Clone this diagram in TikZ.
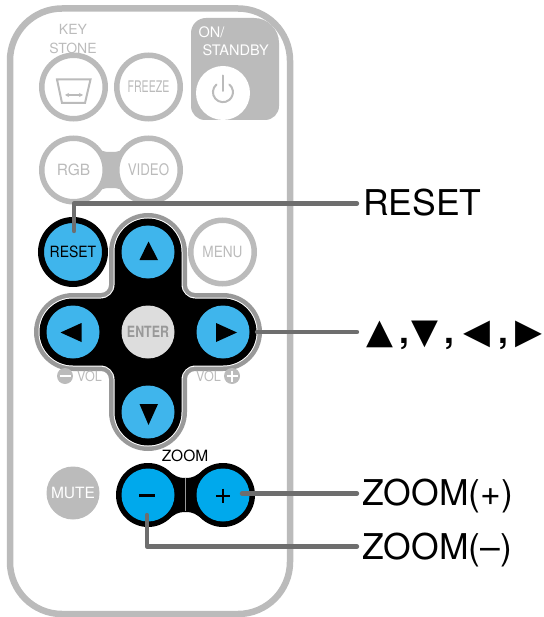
\documentclass[tikz,border=0pt]{standalone}
\usepackage{fontspec}
\setmainfont{TeX Gyre Heros}
\newfontfamily\symfont{DejaVu Sans}
\usetikzlibrary{arrows.meta}
\definecolor{shell}{HTML}{BBBBBB}
\definecolor{padring}{HTML}{999999}
\definecolor{cyanbtn}{HTML}{3FB5EC}
\definecolor{zoombtn}{HTML}{00A9EC}
\definecolor{leadcol}{HTML}{6E6E6E}
\definecolor{entercol}{HTML}{DDDDDD}
\newcommand{\fsz}[1]{\fontsize{#1}{#1}\selectfont}
\newcommand{\tri}[1]{{\fontsize{35}{35}\symfont #1}}
\newcommand{\crossfill}[2]{%
  \pgfmathsetmacro{\cR}{#2}\pgfmathsetmacro{\cF}{47-#2}%
  \fill[#1] ({148-\cR},252) arc[start angle=180,end angle=360,radius=\cR]
  -- ({148+\cR},{332-\cR-\cF}) arc[start angle=180,end angle=90,radius=\cF]
  -- (223,{332-\cR}) arc[start angle=270,end angle=450,radius=\cR]
  -- ({148+\cR+\cF},{332+\cR}) arc[start angle=270,end angle=180,radius=\cF]
  -- ({148+\cR},412) arc[start angle=0,end angle=180,radius=\cR]
  -- ({148-\cR},{332+\cR+\cF}) arc[start angle=0,end angle=-90,radius=\cF]
  -- (73,{332+\cR}) arc[start angle=90,end angle=270,radius=\cR]
  -- ({148-\cR-\cF},{332-\cR}) arc[start angle=90,end angle=0,radius=\cF]
  -- cycle;}
\newcommand{\pillfill}[6]{% colour x1 x2 cy r neck
  \pgfmathsetmacro{\pM}{(#2+#3)/2}\pgfmathsetmacro{\pA}{#2+.64*#5}\pgfmathsetmacro{\pB}{#3-.64*#5}\pgfmathsetmacro{\pH}{.77*#5}%
  \fill[#1] (\pA,{#4-\pH}) .. controls ({\pA+7},{#4-\pH+5}) and ({\pM-8},{#4-#6}) .. (\pM,{#4-#6})
  .. controls ({\pM+8},{#4-#6}) and ({\pB-7},{#4-\pH+5}) .. (\pB,{#4-\pH})
  -- (\pB,{#4+\pH})
  .. controls ({\pB-7},{#4+\pH-5}) and ({\pM+8},{#4+#6}) .. (\pM,{#4+#6})
  .. controls ({\pM-8},{#4+#6}) and ({\pA+7},{#4+\pH-5}) .. (\pA,{#4+\pH}) -- cycle;}
\tikzset{
  x=1pt,y=-1pt,
  ringbtn/.style={circle,draw=shell,line width=5.5pt,fill=white,minimum size=63.5pt,inner sep=0pt,text=shell},
  plainbtn/.style={circle,fill=#1,minimum size=53pt,inner sep=0pt},
  lbl/.style={anchor=base west,inner sep=0pt,font=\fsz{35.5}},
  graytxt/.style={inner sep=0pt,text=shell,font=\fsz{14}},
  leader/.style={draw=leadcol,line width=4.4pt,line cap=round,line join=round},
  icon/.style={draw=shell,line width=2pt},
}
\begin{document}
\begin{tikzpicture}
\useasboundingbox (0,0) rectangle (543,617);
% body
\draw[draw=shell,line width=6.5pt,rounded corners=52pt] (10,8.5) rectangle (290,614);
% key stone
\node[graytxt] (keytxt) at (73,29) {KEY};
\node[graytxt] (stonetxt) at (73,48) {STONE};
\node[ringbtn] (keystone) at (73.5,87) {};
\draw[icon] (57,79.5) -- (90.5,79.5) -- (85,103) -- (62,103) -- cycle;
\draw[draw=shell,line width=1.4pt,{Stealth[length=4pt,width=4pt]}-{Stealth[length=4pt,width=4pt]}] (65,95) -- (83,95);
\node[ringbtn,font=\fsz{16}] (freeze) at (148.5,87) {\scalebox{.66}[1]{FREEZE}};
% power
\fill[shell] (191,60) [rounded corners=15pt] -- (191,18) [rounded corners=25pt] -- (279,18) [rounded corners=14pt] -- (279,120) -- (191,120) -- cycle;
\node[inner sep=0pt,text=white,font=\fsz{14.5},anchor=west] (ontxt) at (198.5,32) {ON/};
\node[inner sep=0pt,text=white,font=\fsz{14.5},anchor=west] (standbytxt) at (202.5,50) {STANDBY};
\node[plainbtn=white,minimum size=54pt] (power) at (223,93) {};
\draw[icon,line cap=round] (216.5,84.5) arc[start angle=-130,end angle=-410,radius=10];
\draw[icon,line cap=round] (223,75.5) -- (223,91);
% rgb video
\pillfill{shell}{73.5}{148.5}{170}{31.5}{18}
\node[ringbtn,font=\fsz{15.5}] (rgb) at (73.5,170) {RGB};
\node[ringbtn,font=\fsz{16}] (video) at (148.5,170) {\scalebox{.83}[1]{VIDEO}};
% reset
\node[circle,draw=black,line width=6pt,fill=cyanbtn,minimum size=64pt,inner sep=0pt,font=\fsz{15.5}] (reset) at (73,252) {\scalebox{.9}[1]{RESET}};
% menu
\node[ringbtn,font=\fsz{15.5}] (menu) at (222.5,252) {\scalebox{.88}[1]{MENU}};
% cross pad
\crossfill{padring}{39}
\crossfill{white}{34.5}
\crossfill{black}{33.5}
\node[plainbtn=cyanbtn] (up) at (148,252) {};
\node[plainbtn=cyanbtn] (left) at (73,332) {};
\node[plainbtn=cyanbtn] (right) at (223,332) {};
\node[plainbtn=cyanbtn] (down) at (148,412) {};
\node[plainbtn=entercol,text=padring,font=\bfseries\fsz{15.5}] (enter) at (148,332) {\scalebox{.8}[1]{ENTER}};
\fill[black] (148.5,241.5) -- (158,260) -- (139.5,260) -- cycle;
\fill[black] (148.5,425) -- (158,404) -- (139.5,404) -- cycle;
\fill[black] (60.5,332.5) -- (81.5,323) -- (81.5,342) -- cycle;
\fill[black] (237,332.5) -- (216,323) -- (216,342) -- cycle;
% vol
\node[circle,fill=shell,minimum size=16pt,inner sep=0pt] (volminus) at (65,376) {};
\draw[white,line width=2pt] (59.5,376) -- (70.5,376);
\node[graytxt,anchor=west] (voltxta) at (77,376) {\scalebox{.9}[1]{VOL}};
\node[circle,fill=shell,minimum size=16pt,inner sep=0pt] (volplus) at (232,376) {};
\draw[white,line width=2pt] (226.5,376) -- (237.5,376) (232,370.5) -- (232,381.5);
\node[graytxt,anchor=west] (voltxtb) at (196,376) {\scalebox{.9}[1]{VOL}};
% mute
\node[plainbtn=shell,text=white,font=\fsz{15.5}] (mute) at (73,493) {MUTE};
% zoom
\node[inner sep=0pt,font=\fsz{15.5}] (zoomtxt) at (185,456) {ZOOM};
\pillfill{black}{148}{223}{495}{31.5}{17}
\fill[black] (148,495) circle[radius=32] (223,495) circle[radius=32];
\node[plainbtn=zoombtn] (zminus) at (148,495) {};
\node[plainbtn=zoombtn] (zplus) at (223,495) {};
\draw[draw=padring,line width=.6pt] (185.7,478) -- (185.7,511);
\draw[black,line width=3pt] (139,495.5) -- (155,495.5);
\draw[black,line width=2pt] (216,495.5) -- (230,495.5) (223,488.5) -- (223,502.5);
% labels
\node[lbl] (lblreset) at (363,216) {RESET};
\node[lbl] (lblarrows) at (366,343) {\tri{▲}\hspace{6pt}{\bfseries,}\hspace{3pt}\tri{▼}\hspace{6pt}{\bfseries,}\hspace{9pt}\tri{◀}\hspace{8pt}{\bfseries,}\hspace{7pt}\tri{▶}};
\node[lbl] (lblzplus) at (362,505) {ZOOM(+)};
\node[lbl] (lblzminus) at (362,559) {ZOOM(–)};
% leader anchors
\coordinate (resettip) at (74,231);
\coordinate (resetend) at (357,203.5);
\coordinate (padtip) at (257,332);
\coordinate (padend) at (357,332);
\coordinate (ztipplus) at (242,493.5);
\coordinate (zendplus) at (357,493.5);
\coordinate (ztipminus) at (147,515);
\coordinate (zendminus) at (357,546.5);
\draw[leader] (resettip) |- (resetend);
\draw[leader] (padtip) -- (padend);
\draw[leader] (ztipplus) -- (zendplus);
\draw[leader] (ztipminus) |- (zendminus);
\end{tikzpicture}
\end{document}
